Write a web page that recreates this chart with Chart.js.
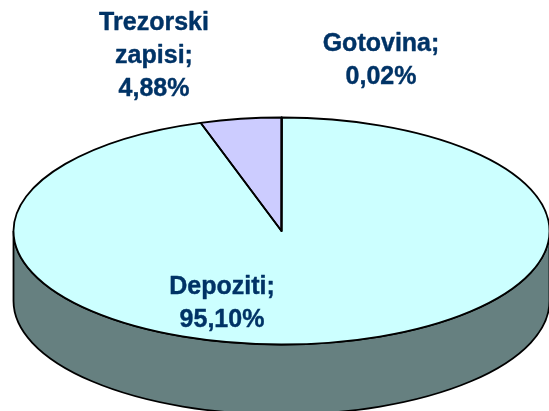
<!DOCTYPE html>
<html>
<head>
<meta charset="utf-8">
<script src="https://cdn.jsdelivr.net/npm/chart.js@4"></script>
<style>
  html, body { margin: 0; padding: 0; background: #fff; overflow: hidden; }
  canvas { display: block; }
</style>
</head>
<body>
<canvas id="myChart" width="549" height="411"></canvas>
<script>
const categories = ["Gotovina", "Depoziti", "Trezorski zapisi"];
const shares = [0.02, 95.10, 4.88];
const colors = ["#9999FF", "#CCFFFF", "#CCCCFF"];
const labelLines = [
  ["Gotovina;", "0,02%"],
  ["Depoziti;", "95,10%"],
  ["Trezorski", "zapisi;", "4,88%"],
];

// where the flattened pie sits on the page
const pie = { x: 281.5, y: 231, rx: 268, ry: 113.5, depth: 70 };
const labelSpots = [
  { x: 381, y: 44 },
  { x: 222, y: 287 },
  { x: 154, y: 23 },
];
const lineHeight = 33;

const tiltPie = {
  id: "tiltPie",
  beforeDatasetsDraw(chart) {
    const ctx = chart.ctx;
    const arc = chart.getDatasetMeta(0).data[0];

    // side wall
    ctx.save();
    ctx.beginPath();
    ctx.ellipse(pie.x, pie.y + pie.depth, pie.rx, pie.ry, 0, 0, Math.PI);
    ctx.lineTo(pie.x - pie.rx, pie.y);
    ctx.ellipse(pie.x, pie.y, pie.rx, pie.ry, 0, Math.PI, 0, true);
    ctx.closePath();
    ctx.fillStyle = "#668080";
    ctx.fill();
    ctx.lineWidth = 1.8;
    ctx.strokeStyle = "#000";
    ctx.stroke();
    ctx.restore();

    // the library's arcs are round, squash them into the top face
    ctx.save();
    ctx.translate(pie.x, pie.y);
    ctx.scale(pie.rx / arc.outerRadius, pie.ry / arc.outerRadius);
    ctx.translate(-arc.x, -arc.y);
  },
  afterDatasetsDraw(chart) {
    const ctx = chart.ctx;
    ctx.restore();

    // outlines go here so the line width is not squashed too
    ctx.save();
    ctx.lineWidth = 1.8;
    ctx.strokeStyle = "#000";
    ctx.lineJoin = "round";
    chart.getDatasetMeta(0).data.forEach((arc) => {
      ctx.beginPath();
      ctx.moveTo(pie.x, pie.y);
      ctx.ellipse(pie.x, pie.y, pie.rx, pie.ry, 0, arc.startAngle, arc.endAngle);
      ctx.closePath();
      ctx.stroke();
    });

    // same colour stroke thickens the glyphs a little, like the reference
    ctx.fillStyle = "#003366";
    ctx.strokeStyle = "#003366";
    ctx.lineWidth = 0.4;
    ctx.font = "bold 25px 'Liberation Sans', Arial, sans-serif";
    ctx.textAlign = "center";
    ctx.textBaseline = "middle";
    labelLines.forEach((lines, i) => {
      lines.forEach((line, j) => {
        ctx.fillText(line, labelSpots[i].x, labelSpots[i].y + j * lineHeight);
        ctx.strokeText(line, labelSpots[i].x, labelSpots[i].y + j * lineHeight);
      });
    });
    ctx.restore();
  },
};

const canvas = document.getElementById("myChart");
const myChart = new Chart(canvas.getContext("2d"), {
  type: "pie",
  data: {
    labels: categories,
    datasets: [
      {
        data: shares,
        backgroundColor: colors,
        borderWidth: 0,
      },
    ],
  },
  options: {
    responsive: false,
    animation: false,
    plugins: {
      legend: { display: false },
      tooltip: { enabled: false },
    },
  },
  plugins: [tiltPie],
});
</script>
</body>
</html>
